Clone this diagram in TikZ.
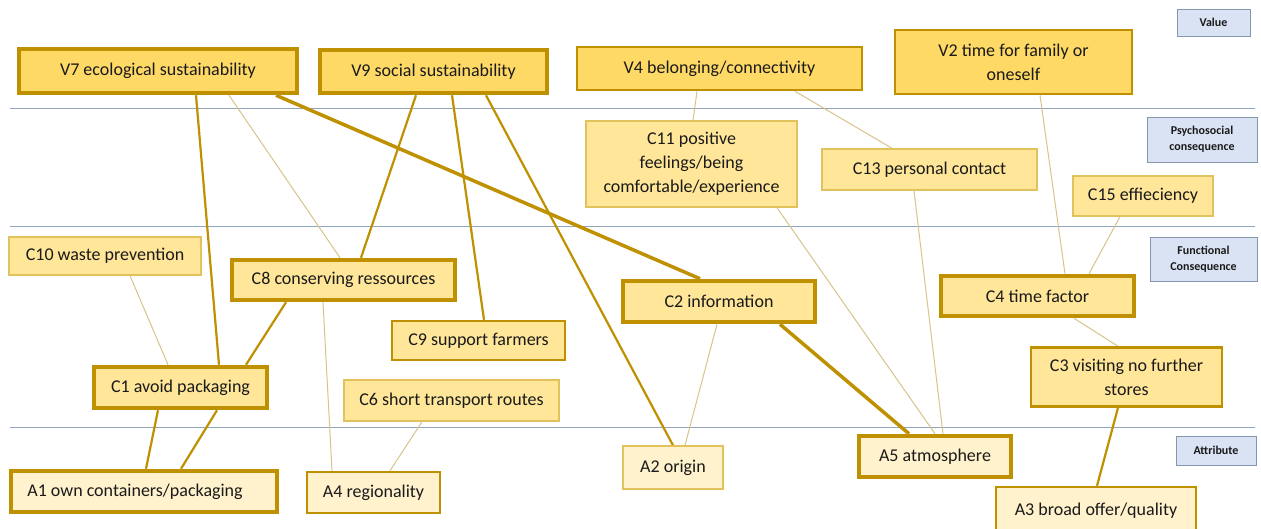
\documentclass[tikz,border=0pt]{standalone}
\usepackage{fontspec}
\setmainfont{Carlito}
\usetikzlibrary{positioning}
\pgfdeclarelayer{background}
\pgfsetlayers{background,main}
\definecolor{gold}{HTML}{BF9000}
\definecolor{goldlight}{HTML}{D8C48A}
\definecolor{vfill}{HTML}{FFD966}
\definecolor{cfill}{HTML}{FFE699}
\definecolor{afill}{HTML}{FFF2CC}
\definecolor{thinborder}{HTML}{E2C25C}
\definecolor{legfill}{HTML}{DAE3F3}
\definecolor{legborder}{HTML}{8497B0}
\definecolor{sep}{HTML}{8FA6BE}
\definecolor{txt}{HTML}{1A1A1A}
\tikzset{
  box/.style={rectangle, inner sep=0pt, align=center, text=txt, font=\fontsize{18}{24}\selectfont},
  heavy/.style={draw=gold, line width=4.5pt},
  mid/.style={draw=gold, line width=2.5pt},
  light/.style={draw=thinborder, line width=1.4pt},
  vbox/.style={box, fill=vfill},
  cbox/.style={box, fill=cfill},
  abox/.style={box, fill=afill},
  legend/.style={rectangle, inner sep=0pt, align=center, fill=legfill, draw=legborder, line width=1pt, text=txt, font=\fontsize{12}{16}\selectfont\bfseries},
  ethick/.style={draw=gold, line width=3.5pt},
  emid/.style={draw=gold, line width=2.2pt},
  ethin/.style={draw=goldlight, line width=1pt},
  sepline/.style={draw=sep, line width=0.9pt},
}
\begin{document}
\begin{tikzpicture}[x=1pt,y=-1pt]
\useasboundingbox (0,0) rectangle (1261,528);
\clip (0,0) rectangle (1261,528);
% values
\node[vbox, heavy, minimum width=278pt, minimum height=44pt] (V7) at (158,71) {V7 ecological sustainability};
\node[vbox, heavy, minimum width=227pt, minimum height=43pt] (V9) at (433.5,71.5) {V9 social sustainability};
\node[vbox, mid, minimum width=285pt, minimum height=43pt] (V4) at (719.5,68.5) {V4 belonging/connectivity};
\node[vbox, mid, minimum width=237pt, minimum height=64pt] (V2) at (1013.5,62) {V2 time for family or\\oneself};
% psychosocial
\node[cbox, light, minimum width=211pt, minimum height=86pt] (C11) at (691.5,164) {C11 positive\\feelings/being\\comfortable/experience};
\node[cbox, light, minimum width=215pt, minimum height=41pt] (C13) at (929.5,169.5) {C13 personal contact};
\node[cbox, light, minimum width=140pt, minimum height=40pt] (C15) at (1143,196) {C15 effieciency};
% functional
\node[cbox, light, minimum width=192pt, minimum height=38pt] (C10) at (105,256) {C10 waste prevention};
\node[cbox, heavy, minimum width=223pt, minimum height=40pt] (C8) at (343.5,280) {C8 conserving ressources};
\node[cbox, heavy, minimum width=192pt, minimum height=41pt] (C2) at (719,301.5) {C2 information};
\node[cbox, heavy, minimum width=193pt, minimum height=40pt] (C4) at (1037.5,296) {C4 time factor};
\node[cbox, mid, minimum width=173pt, minimum height=39pt] (C9) at (478.5,340.5) {C9 support farmers};
\node[cbox, heavy, minimum width=173pt, minimum height=41pt] (C1) at (180.5,387.5) {C1 avoid packaging};
\node[cbox, light, minimum width=215pt, minimum height=41pt] (C6) at (451.5,400.5) {C6 short transport routes};
\node[cbox, mid, minimum width=191pt, minimum height=59pt] (C3) at (1126.5,377) {C3 visiting no further\\stores};
% attributes
\node[abox, heavy, minimum width=266pt, minimum height=41pt] (A1) at (144,491.5) {\hspace*{-18pt}A1 own containers/packaging};
\node[abox, mid, minimum width=133pt, minimum height=41pt] (A4) at (373.5,492.5) {A4 regionality};
\node[abox, light, minimum width=100pt, minimum height=43pt] (A2) at (673,467.5) {A2 origin};
\node[abox, heavy, minimum width=152pt, minimum height=41pt] (A5) at (935,456.5) {A5 atmosphere};
\node[abox, mid, minimum width=200pt, minimum height=45pt, text depth=0pt] (A3) at (1096,509.5) {A3 broad offer/quality};
% legend
\node[legend, minimum width=73pt, minimum height=27pt] (LV) at (1213.5,22.5) {Value};
\node[legend, minimum width=110pt, minimum height=45pt] (LP) at (1202,139.5) {Psychosocial\\consequence};
\node[legend, minimum width=107pt, minimum height=44pt] (LF) at (1203.5,259) {Functional\\Consequence};
\node[legend, minimum width=80pt, minimum height=29pt] (LA) at (1216,450.5) {Attribute};
\coordinate (s1a) at (10,108); \coordinate (s1b) at (1255,108);
\coordinate (s2a) at (10,226); \coordinate (s2b) at (1255,226);
\coordinate (s3a) at (10,427); \coordinate (s3b) at (1255,427);
\begin{pgfonlayer}{background}
\fill[white] (0,0) rectangle (1261,528);
\draw[sepline] (s1a) -- (s1b);
\draw[sepline] (s2a) -- (s2b);
\draw[sepline] (s3a) -- (s3b);
\draw[emid]  ([xshift=38pt]V7.south) -- ([xshift=38.5pt]C1.north);
\draw[ethin] ([xshift=71pt]V7.south) -- ([xshift=-3.5pt]C8.north);
\draw[ethick] ([xshift=118pt]V7.south) -- ([xshift=-19pt]C2.north);
\draw[emid]  ([xshift=-17.5pt]V9.south) -- ([xshift=17.5pt]C8.north);
\draw[emid]  ([xshift=18.5pt]V9.south) -- ([xshift=5.5pt]C9.north);
\draw[emid]  ([xshift=52.5pt]V9.south) -- (A2.north);
\draw[ethin] ([xshift=-22.5pt]V4.south) -- ([xshift=1.5pt]C11.north);
\draw[ethin] ([xshift=75.5pt]V4.south) -- ([xshift=-37.5pt]C13.north);
\draw[ethin] ([xshift=26.5pt]V2.south) -- ([xshift=27.5pt]C4.north);
\draw[ethin] ([xshift=-23pt]C15.south) -- ([xshift=51.5pt]C4.north);
\draw[ethin] ([xshift=85.5pt]C11.south) -- (A5.north);
\draw[ethin] ([xshift=-15.5pt]C13.south) -- ([xshift=8pt]A5.north);
\draw[ethin] ([xshift=25pt]C10.south) -- ([xshift=-12.5pt]C1.north);
\draw[emid]  ([xshift=-57.5pt]C8.south) -- ([xshift=65.5pt]C1.north);
\draw[ethin] ([xshift=-20.5pt]C8.south) -- ([xshift=-41.5pt]A4.north);
\draw[emid]  ([xshift=-22.5pt]C1.south) -- ([xshift=2pt]A1.north);
\draw[emid]  ([xshift=36.5pt]C1.south) -- ([xshift=37pt]A1.north);
\draw[ethin] ([xshift=-29.5pt]C6.south) -- ([xshift=16.5pt]A4.north);
\draw[ethin] ([xshift=-2pt]C2.south) -- ([xshift=12pt]A2.north);
\draw[ethick] ([xshift=61pt]C2.south) -- ([xshift=-26pt]A5.north);
\draw[ethin] ([xshift=36.5pt]C4.south) -- ([xshift=-8.5pt]C3.north);
\draw[emid]  ([xshift=-8.5pt]C3.south) -- ([xshift=1pt]A3.north);
\end{pgfonlayer}
\end{tikzpicture}
\end{document}
